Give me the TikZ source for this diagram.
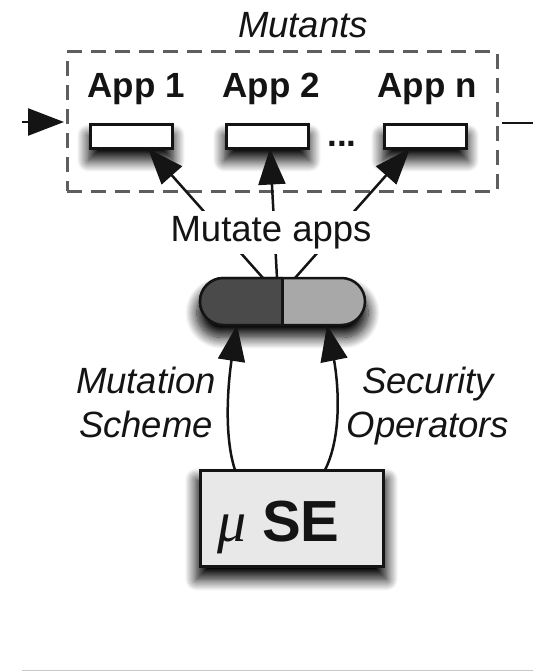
\documentclass[tikz,border=0pt]{standalone}
\usepackage{fontspec}
\setmainfont{Liberation Sans}
\newfontfamily\muface{Liberation Serif}
\usetikzlibrary{arrows.meta, shapes.misc, shadows.blur, calc}

\definecolor{ink}{HTML}{141414}
\definecolor{dashgray}{HTML}{5E5E5E}
\definecolor{pilldark}{HTML}{4A4A4A}
\definecolor{pilllight}{HTML}{A8A8A8}
\definecolor{boxfill}{HTML}{E8E8E8}
\definecolor{rulegray}{HTML}{C8C8C8}

\tikzset{
  every node/.style={inner sep=0pt, outer sep=0pt, text=ink},
  softshadow/.style={blur shadow={shadow xshift=0pt, shadow yshift=-11pt,
      shadow scale=1.04, shadow blur radius=11pt, shadow blur steps=16,
      shadow opacity=100}},
  itlabel/.style={font=\fontsize{36.5}{44}\selectfont\itshape, align=center},
  applabel/.style={font=\fontsize{35}{42}\selectfont\bfseries, anchor=base},
  appbox/.style={draw=ink, line width=3pt, fill=white,
      minimum width=82pt, minimum height=24pt, softshadow},
  groupbox/.style={draw=dashgray, line width=3pt, dash pattern=on 15pt off 9pt,
      minimum width=430pt, minimum height=139pt},
  pillshape/.style={rounded rectangle, draw=ink, line width=2.5pt,
      minimum width=165pt, minimum height=47pt},
  conn/.style={draw=ink, line width=2.5pt, -{Triangle[length=36pt,width=27pt]}},
  plainconn/.style={draw=ink, line width=2.5pt},
}

\begin{document}
\begin{tikzpicture}[x=1pt, y=-1pt]
  \useasboundingbox (0,0) rectangle (533,671);

  % group of mutated apps
  \node[groupbox] (mutants) at (282,121.5) {};
  \node[itlabel, anchor=base] (mutlbl) at (303,38) {Mutants};

  \node[applabel] (lbl1) at (136,98) {App 1};
  \node[applabel] (lbl2) at (271,98) {App 2};
  \node[applabel] (lbln) at (427,98) {App n};

  \node[appbox] (app1) at (131,136.5) {};
  \node[appbox] (app2) at (267,136.5) {};
  \node[appbox] (appn) at (425,136.5) {};
  \node[applabel] (dots) at (342,147) {...};

  % flow into and out of the group
  \coordinate (inL) at (22,122);
  \coordinate (outR) at (533,123);
  \draw[conn] (inL) -- ([xshift=-3pt]mutants.west |- inL);
  \draw[plainconn] ([xshift=5pt]mutants.east |- outR) -- (outR);

  % the mutation engine (pill)
  \node[pillshape, fill=pilllight, softshadow] (pill) at (282.5,301.5) {};
  \begin{scope}
    \clip (190,270) rectangle (282.5,335);
    \node[pillshape, fill=pilldark] at (pill.center) {};
  \end{scope}
  \draw[plainconn] (pill.north) -- (pill.south);

  % arrows from the engine to each app
  \draw[conn] ([xshift=-19.5pt]pill.north) -- ([xshift=17pt]app1.south);
  \draw[conn] ([xshift=-5.5pt]pill.north) -- ([xshift=3pt]app2.south);
  \draw[conn] ([xshift=12.5pt]pill.north) -- ([xshift=-15pt]appn.south);
  \node[font=\fontsize{36.5}{44}\selectfont, fill=white, inner sep=5pt, anchor=base]
    (mutate) at (271,241.5) {Mutate apps};

  % muSE tool
  \node[draw=ink, line width=3pt, fill=boxfill, minimum width=183pt,
        minimum height=96pt, softshadow] (muse) at (291.5,518) {};
  \node[anchor=base west] (musetxt) at (217,541)
    {{\fontsize{58}{60}\selectfont\muface\itshape μ}\hspace{16pt}{\fontsize{58}{60}\selectfont\bfseries SE}};

  % inputs of the engine
  \draw[conn] ([xshift=-56.5pt]muse.north) .. controls (222,430) and (230,370) .. ([xshift=-45.5pt]pill.south);
  \draw[conn] ([xshift=33.5pt]muse.north) .. controls (345,430) and (336,370) .. ([xshift=44.5pt]pill.south);

  \node[itlabel, anchor=north] (scheme) at (146,367) {Mutation\\Scheme};
  \node[itlabel, anchor=north] (ops) at (428,367) {Security\\Operators};

  % bottom rule
  \coordinate (ruleL) at (22,670);
  \coordinate (ruleR) at (533,670);
  \draw[rulegray, line width=1pt] (ruleL) -- (ruleR);
\end{tikzpicture}
\end{document}
